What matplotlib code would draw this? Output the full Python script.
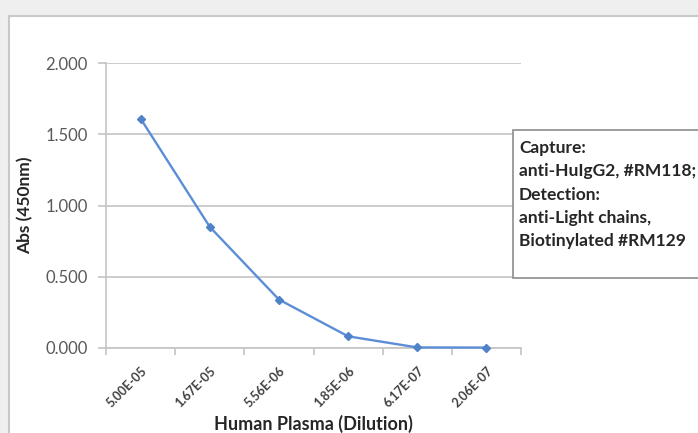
import matplotlib.pyplot as plt
import matplotlib.patches as mpatches

dilutions = ["5.00E-05", "1.67E-05", "5.56E-06", "1.85E-06", "6.17E-07", "2.06E-07"]
absorbance = [1.610, 0.850, 0.340, 0.082, 0.004, 0.003]
y_ticks = [0.0, 0.5, 1.0, 1.5, 2.0]
legend_lines = ["Capture:", "anti-HuIgG2, #RM118;", "Detection:",
                "anti-Light chains,", "Biotinylated #RM129"]

plt.rcParams['font.family'] = ['Lato', 'DejaVu Sans']

fig = plt.figure(figsize=(6.98, 4.33), dpi=100)
fig.patch.set_facecolor('#efefef')

# white chart panel
panel = mpatches.Rectangle((9 / 698, -0.01), 1.0, 1 - 16 / 433 + 0.01,
                           transform=fig.transFigure, facecolor='white',
                           edgecolor='#c8c8c8', linewidth=1.5, zorder=-10)
fig.patches.append(panel)

ax = fig.add_axes([106 / 698, 1 - 348 / 433, 415 / 698, 285 / 433])
ax.set_facecolor('none')
ax.set_zorder(1)

x = [i + 0.5 for i in range(len(dilutions))]
ax.plot(x, absorbance, color='#5b8ed6', linewidth=1.7, marker='D',
        markersize=4, markerfacecolor='#4f82c8', markeredgecolor='#4f82c8',
        zorder=3, clip_on=False)

ax.set_xlim(0, len(dilutions))
ax.set_ylim(0, 2.0)
ax.set_yticks(y_ticks)
ax.set_yticklabels([f"{v:.3f}" for v in y_ticks], fontsize=12, color='#595959')
ax.yaxis.grid(True, color='#c4c4c4', linewidth=1.2)
ax.set_axisbelow(True)

ax.set_xticks(range(len(dilutions) + 1))
ax.set_xticklabels([])
ax.set_xticks(x, minor=True)
ax.set_xticklabels(dilutions, minor=True, rotation=45, fontsize=9,
                   fontweight='bold', color='#404040', ha='right', va='top',
                   rotation_mode='anchor')
ax.tick_params(axis='x', which='minor', length=0, pad=12)
ax.tick_params(axis='x', which='major', length=5, color='#c4c4c4', width=1.2)
ax.tick_params(axis='y', length=6, color='#c4c4c4', width=1.2, pad=7)

for s in ['top', 'right']:
    ax.spines[s].set_visible(False)
for s in ['left', 'bottom']:
    ax.spines[s].set_color('#c4c4c4')
    ax.spines[s].set_linewidth(1.2)

ax.set_ylabel("Abs (450nm)", fontsize=12.5, fontweight='bold', color='#262626')
ax.yaxis.set_label_coords(-0.176, 0.5)
ax.set_xlabel("Human Plasma (Dilution)", fontsize=13, fontweight='bold', color='#262626')
ax.xaxis.set_label_coords(0.5, -0.235)

# legend-like text box
box = mpatches.Rectangle((513 / 698, 1 - 278 / 433), 0.3, 148 / 433,
                         transform=fig.transFigure, facecolor='white',
                         edgecolor='#8c8c8c', linewidth=1.2, zorder=5)
fig.patches.append(box)
for i, line in enumerate(legend_lines):
    fig.text(519 / 698, 1 - (146 + i * 23.5) / 433, line, fontsize=12.5,
             fontweight='bold', color='#262626', va='center_baseline',
             ha='left', zorder=6)

fig.savefig("out.png", dpi=100, facecolor=fig.get_facecolor())
